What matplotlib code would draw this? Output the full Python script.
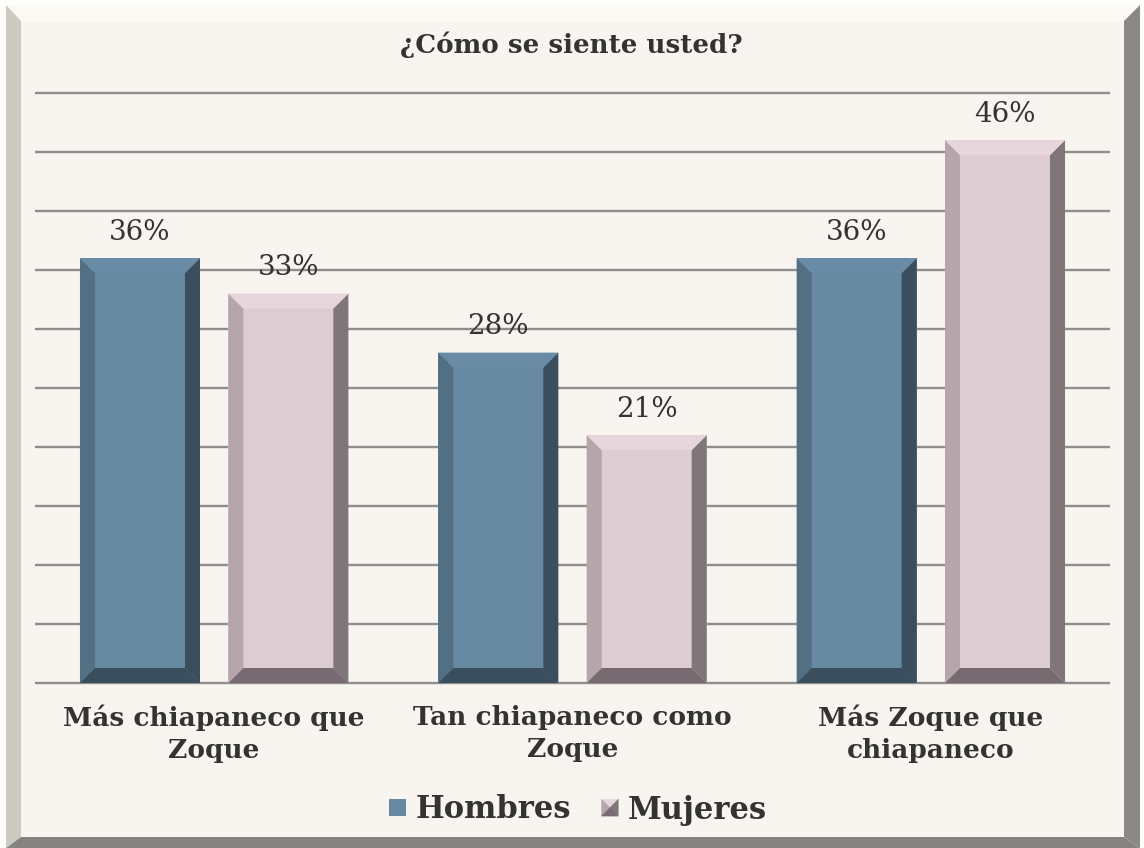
import matplotlib.pyplot as plt
from matplotlib.patches import Polygon, Rectangle
from matplotlib.legend_handler import HandlerBase

categories = ["Más chiapaneco que\nZoque", "Tan chiapaneco como\nZoque", "Más Zoque que\nchiapaneco"]
series = ["Hombres", "Mujeres"]
hombres = [36, 28, 36]
mujeres = [33, 21, 46]
labels_h = ["36%", "28%", "36%"]
labels_m = ["33%", "21%", "46%"]
yticks = list(range(0, 51, 5))

# face, left, right, top, bottom
colors = {
    "Hombres": ("#6889A2", "#526F84", "#3A4E5D", "#6A8BA5", "#3A4E5D"),
    "Mujeres": ("#DDCDD3", "#B6A6AC", "#807579", "#E6D5DB", "#776A70"),
}

W, H = 1144, 848
fig = plt.figure(figsize=(W / 100, H / 100), dpi=100)
fig.patch.set_facecolor("#FEFEFB")


def fpx(pts):
    return [(x / W, 1 - y / H) for x, y in pts]


# frame with bevel
frame = [
    ([(6, 5), (1140, 5), (1124, 21), (21, 21)], "#FBFAF5"),
    ([(6, 5), (21, 21), (21, 837), (6, 848)], "#CDCAC2"),
    ([(1140, 5), (1124, 21), (1124, 837), (1140, 848)], "#8A8986"),
    ([(6, 848), (21, 837), (1124, 837), (1140, 848)], "#858480"),
    ([(21, 21), (1124, 21), (1124, 837), (21, 837)], "#F8F4EF"),
]
for pts, c in frame:
    fig.patches.append(Polygon(fpx(pts), closed=True, transform=fig.transFigure,
                               facecolor=c, edgecolor="none", zorder=-1))

ax = fig.add_axes([35 / W, 1 - 683 / H, 1075 / W, 590 / H])
ax.set_zorder(1)
ax.set_facecolor("none")
ax.set_xlim(-0.5, 2.5)
ax.set_ylim(0, 50)
ax.set_yticks([])
ax.hlines(yticks, -0.5, 2.5, color="#8E8E8E", lw=1.7, clip_on=False, zorder=1)
ax.tick_params(axis="x", bottom=False, pad=12)
for s in ax.spines.values():
    s.set_visible(False)

bw = 0.335
off = 0.207
bx = 0.042   # bevel width (x units)
by = 1.27    # bevel height (y units)


def bevel_bar(x, h, cols):
    x0, x1 = x - bw / 2, x + bw / 2
    ax.bar(x, h, bw, color=cols[0], zorder=2)
    parts = [
        ([(x0, 0), (x0 + bx, by), (x0 + bx, h - by), (x0, h)], cols[1]),
        ([(x1, 0), (x1 - bx, by), (x1 - bx, h - by), (x1, h)], cols[2]),
        ([(x0, h), (x1, h), (x1 - bx, h - by), (x0 + bx, h - by)], cols[3]),
        ([(x0, 0), (x1, 0), (x1 - bx, by), (x0 + bx, by)], cols[4]),
    ]
    for pts, c in parts:
        ax.add_patch(Polygon(pts, closed=True, facecolor=c, edgecolor="none", zorder=3))


for i in range(len(categories)):
    for name, vals, labs, dx in [("Hombres", hombres, labels_h, -off),
                                 ("Mujeres", mujeres, labels_m, off)]:
        bevel_bar(i + dx, vals[i], colors[name])
        ax.annotate(labs[i], (i + dx, vals[i]), xytext=(0, 9), textcoords="offset points",
                    ha="center", va="bottom", fontsize=20, family="DejaVu Serif",
                    color="#333333", zorder=4)

ax.set_xticks(range(len(categories)))
ax.set_xticklabels(categories, fontsize=19, family="DejaVu Serif", fontweight="bold",
                   color="#333333", linespacing=1.35)

fig.text(571 / W, 1 - 45 / H, "¿Cómo se siente usted?", ha="center", va="center",
         fontsize=18.8, family="DejaVu Serif", fontweight="bold", color="#333333")


class BevelHandler(HandlerBase):
    def create_artists(self, legend, orig, xd, yd, width, height, fontsize, trans):
        cols = orig.cols
        s = min(width, height)
        x0, y0 = -xd + (width - s) / 2, -yd + (height - s) / 2
        if len(set(cols)) == 1:
            return [Rectangle((x0, y0), s, s, facecolor=cols[0], edgecolor="none",
                              transform=trans)]
        cx, cy = x0 + s / 2, y0 + s / 2
        tris = [
            ([(x0, y0 + s), (x0 + s, y0 + s), (cx, cy)], cols[3]),
            ([(x0, y0), (x0, y0 + s), (cx, cy)], cols[1]),
            ([(x0 + s, y0), (x0 + s, y0 + s), (cx, cy)], cols[2]),
            ([(x0, y0), (x0 + s, y0), (cx, cy)], cols[4]),
        ]
        return [Polygon(p, closed=True, facecolor=c, edgecolor=c, lw=0.3, transform=trans)
                for p, c in tris]


handles = []
for name in series:
    r = Rectangle((0, 0), 1, 1)
    r.cols = colors[name] if name == "Mujeres" else (colors[name][0],) * 5
    handles.append(r)

fig.legend(handles, series, loc="center", bbox_to_anchor=(578 / W, 1 - 810 / H),
           ncol=2, frameon=False, handler_map={Rectangle: BevelHandler()},
           handlelength=0.55, handleheight=0.55, handletextpad=0.3, columnspacing=1.0,
           prop={"family": "DejaVu Serif", "weight": "bold", "size": 22},
           labelcolor="#333333")

fig.savefig("out.png", dpi=100, facecolor=fig.get_facecolor())
